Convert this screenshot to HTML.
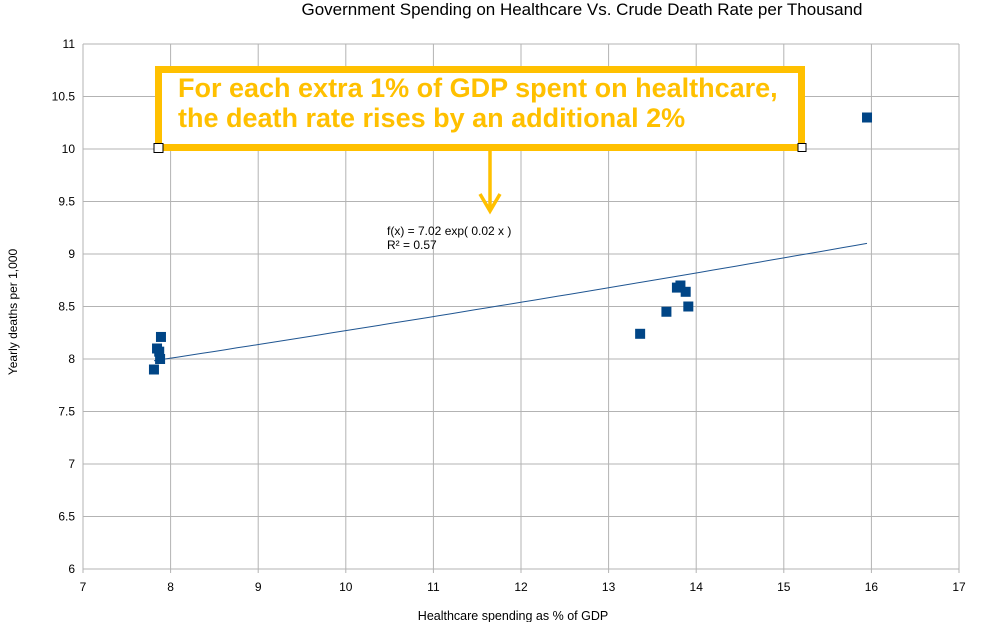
<!DOCTYPE html>
<html><head><meta charset="utf-8"><style>
body{margin:0;background:#fff}
svg{display:block;font-family:"Liberation Sans",sans-serif}
</style></head><body>
<svg id="chart" width="993" height="622">
<text x="582" y="15" text-anchor="middle" font-size="17" fill="#000">Government Spending on Healthcare Vs. Crude Death Rate per Thousand</text>
<g id="grid"></g>
<g id="ticks"></g>
<text x="513" y="620" text-anchor="middle" font-size="12.5">Healthcare spending as % of GDP</text>
<text transform="translate(17,312) rotate(-90)" text-anchor="middle" font-size="12">Yearly deaths per 1,000</text>
<path id="trend" fill="none" stroke="#1f5591" stroke-width="1"></path>
<g id="pts"></g>
<text x="387" y="235" font-size="12">f(x) = 7.02 exp( 0.02 x )</text>
<text x="387" y="249" font-size="12">R² = 0.57</text>
<g>
<rect x="158.5" y="69.5" width="643" height="78" fill="#fff" stroke="#FFC000" stroke-width="7"/>
<text x="178" y="97" font-size="27" font-weight="bold" fill="#FFC000">For each extra 1% of GDP spent on healthcare,</text>
<text x="178" y="127" font-size="27" font-weight="bold" fill="#FFC000">the death rate rises by an additional 2%</text>
<rect x="154" y="143.5" width="9" height="9" fill="#fff" stroke="#000" stroke-width="1"/>
<rect x="798" y="143.5" width="8" height="8" fill="#fff" stroke="#000" stroke-width="1"/>
<path d="M490 151 V211 M480 194 L490 211 L500 194" fill="none" stroke="#FFC000" stroke-width="3.5"/>
</g>
</svg>
<script>
const xTicks=[7,8,9,10,11,12,13,14,15,16,17];
const yTicks=[6,6.5,7,7.5,8,8.5,9,9.5,10,10.5,11];
const xVals=[7.81,7.845,7.87,7.88,7.89,13.36,13.66,13.78,13.82,13.88,13.91,15.95];
const yVals=[7.90,8.10,8.07,8.00,8.21,8.24,8.45,8.68,8.70,8.64,8.50,10.30];
const trendA=[7.04];
const trendB=[0.0161];
const X0=83,X1=959,Y0=569,Y1=44;
const sx=v=>X0+(v-7)/(17-7)*(X1-X0);
const sy=v=>Y0-(v-6)/(11-6)*(Y0-Y1);
const NS="http://www.w3.org/2000/svg";
const grid=document.getElementById('grid'),ticks=document.getElementById('ticks'),pts=document.getElementById('pts');
yTicks.forEach(t=>{
 const l=document.createElementNS(NS,'line');
 l.setAttribute('x1',X0);l.setAttribute('x2',X1);l.setAttribute('y1',sy(t));l.setAttribute('y2',sy(t));
 l.setAttribute('stroke','#b3b3b3');l.setAttribute('stroke-width','1');
 
 
 grid.appendChild(l);
 const tx=document.createElementNS(NS,'text');
 tx.setAttribute('x',75);tx.setAttribute('y',sy(t)+4);tx.setAttribute('text-anchor','end');tx.setAttribute('font-size','12');
 tx.textContent=t;
 
 
 ticks.appendChild(tx);
});
xTicks.forEach(t=>{
 const l=document.createElementNS(NS,'line');
 l.setAttribute('x1',sx(t));l.setAttribute('x2',sx(t));l.setAttribute('y1',Y1);l.setAttribute('y2',Y0+4);
 l.setAttribute('stroke','#b3b3b3');l.setAttribute('stroke-width','1');
 
 
 grid.appendChild(l);
 const tx=document.createElementNS(NS,'text');
 tx.setAttribute('x',sx(t));tx.setAttribute('y',591);tx.setAttribute('text-anchor','middle');tx.setAttribute('font-size','12');
 tx.textContent=t;
 
 
 ticks.appendChild(tx);
});
const xmin=Math.min(...xVals),xmax=Math.max(...xVals);
let d='';
for(let i=0;i<=60;i++){const x=xmin+(xmax-xmin)*i/60;const y=trendA[0]*Math.exp(trendB[0]*x);d+=(i?'L':'M')+sx(x).toFixed(1)+' '+sy(y).toFixed(1);}
document.getElementById('trend').setAttribute('d',d);
xVals.forEach((x,i)=>{
 const r=document.createElementNS(NS,'rect');
 r.setAttribute('x',sx(x)-5);r.setAttribute('y',sy(yVals[i])-5);r.setAttribute('width',10);r.setAttribute('height',10);
 r.setAttribute('fill','#004586');
 
 
 pts.appendChild(r);
});
</script>
</body></html>
